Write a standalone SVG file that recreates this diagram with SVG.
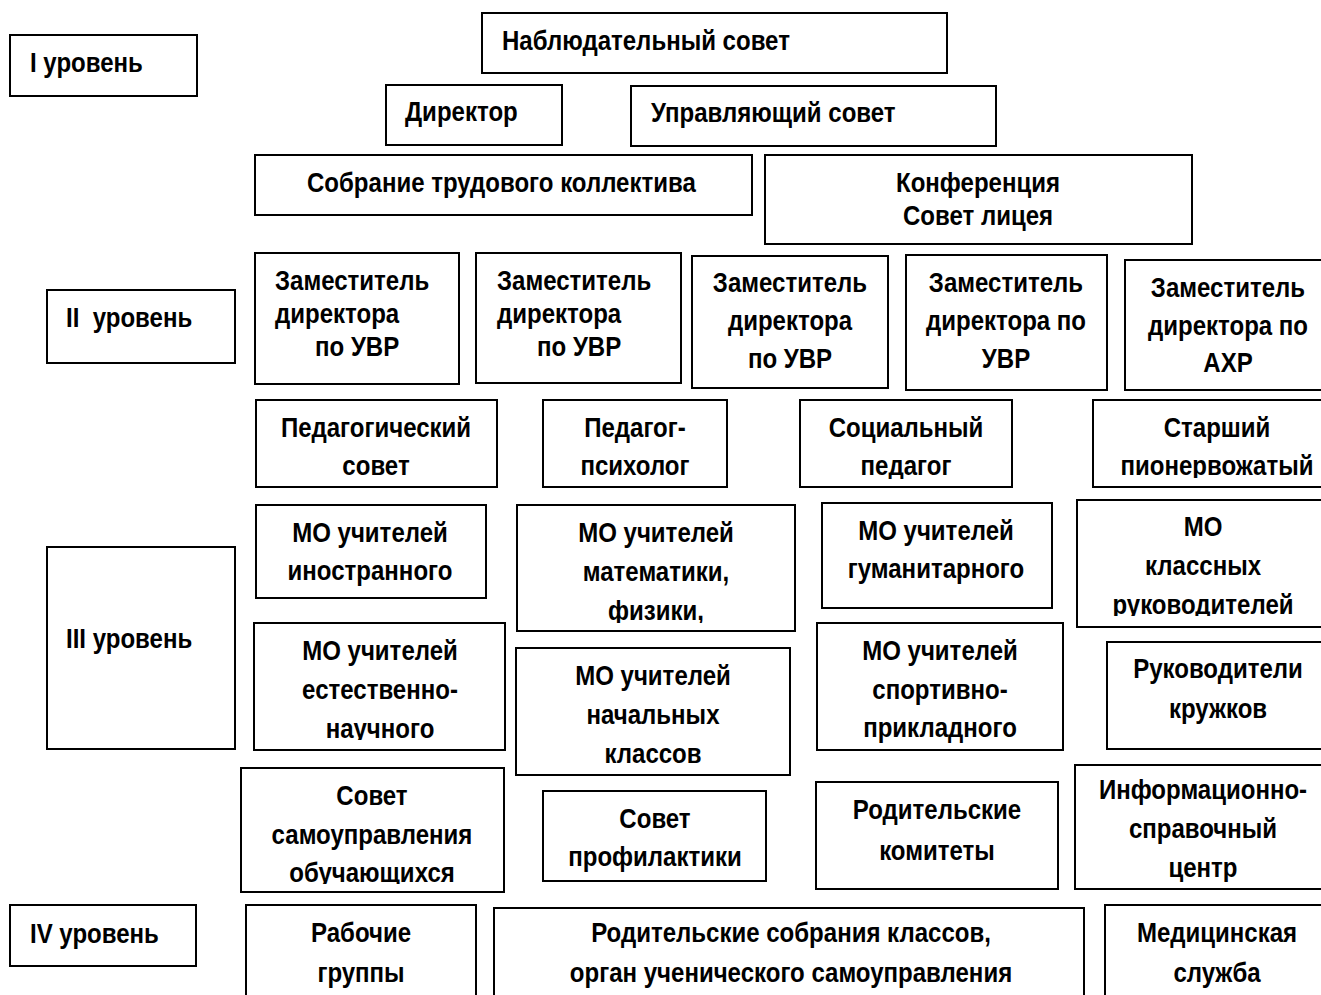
<svg xmlns="http://www.w3.org/2000/svg" width="1321" height="995" viewBox="0 0 1321 995">
<style>
rect.b{fill:#fff;stroke:#000;stroke-width:2}
text{font-family:"Liberation Sans",Arial,sans-serif;font-weight:bold;font-size:27px;fill:#000}
text.m{text-anchor:middle}
</style>
<defs>
<clipPath id="c-soc"><rect x="800" y="400" width="212" height="79"/></clipPath>
<clipPath id="c-star"><rect x="1093" y="400" width="240" height="78"/></clipPath>
<clipPath id="c-momat"><rect x="517" y="505" width="278" height="118"/></clipPath>
<clipPath id="c-mokl"><rect x="1077" y="500" width="256" height="116"/></clipPath>
<clipPath id="c-moest"><rect x="254" y="623" width="251" height="117"/></clipPath>
<clipPath id="c-sovsam"><rect x="241" y="768" width="263" height="116"/></clipPath>
<clipPath id="c-info"><rect x="1075" y="765" width="258" height="117"/></clipPath>
</defs>
<rect width="1321" height="995" fill="#fff"/>
<g id="connectors"></g>
<g id="lvl1"><rect class="b" x="10" y="35" width="187" height="61"/><g transform="matrix(0.89 0 0 1 30 0)"><text x="0" y="72">I уровень</text></g></g>
<g id="nabl"><rect class="b" x="482" y="13" width="465" height="60"/><g transform="matrix(0.89 0 0 1 502 0)"><text x="0" y="50">Наблюдательный совет</text></g></g>
<g id="dir"><rect class="b" x="386" y="85" width="176" height="60"/><g transform="matrix(0.89 0 0 1 405 0)"><text x="0" y="121">Директор</text></g></g>
<g id="upr"><rect class="b" x="631" y="86" width="365" height="60"/><g transform="matrix(0.89 0 0 1 651 0)"><text x="0" y="122">Управляющий совет</text></g></g>
<g id="sobr"><rect class="b" x="255" y="155" width="497" height="60"/><g transform="matrix(0.89 0 0 1 307 0)"><text x="0" y="192">Собрание трудового коллектива</text></g></g>
<g id="konf"><rect class="b" x="765" y="155" width="427" height="89"/><g transform="matrix(0.89 0 0 1 978 0)"><text class="m" x="0" y="192">Конференция</text><text class="m" x="0" y="225">Совет лицея</text></g></g>
<g id="lvl2"><rect class="b" x="47" y="290" width="188" height="73"/><g transform="matrix(0.89 0 0 1 66 0)"><text x="0" y="327">II&#160; уровень</text></g></g>
<g id="zd1"><rect class="b" x="255" y="253" width="204" height="131"/><g transform="matrix(0.89 0 0 1 275 0)"><text x="0" y="290">Заместитель</text><text x="0" y="323">директора</text><text x="45" y="356">по УВР</text></g></g>
<g id="zd2"><rect class="b" x="476" y="253" width="205" height="130"/><g transform="matrix(0.89 0 0 1 497 0)"><text x="0" y="290">Заместитель</text><text x="0" y="323">директора</text><text x="45" y="356">по УВР</text></g></g>
<g id="zd3"><rect class="b" x="692" y="256" width="196" height="132"/><g transform="matrix(0.89 0 0 1 790 0)"><text class="m" x="0" y="292">Заместитель</text><text class="m" x="0" y="330">директора</text><text class="m" x="0" y="368">по УВР</text></g></g>
<g id="zd4"><rect class="b" x="906" y="255" width="201" height="135"/><g transform="matrix(0.89 0 0 1 1006 0)"><text class="m" x="0" y="292">Заместитель</text><text class="m" x="0" y="330">директора по</text><text class="m" x="0" y="368">УВР</text></g></g>
<g id="zd5"><rect class="b" x="1125" y="260" width="210" height="130"/><g transform="matrix(0.89 0 0 1 1228 0)"><text class="m" x="0" y="297">Заместитель</text><text class="m" x="0" y="335">директора по</text><text class="m" x="0" y="372">АХР</text></g></g>
<g id="pedsov"><rect class="b" x="256" y="400" width="241" height="87"/><g transform="matrix(0.89 0 0 1 376 0)"><text class="m" x="0" y="437">Педагогический</text><text class="m" x="0" y="475">совет</text></g></g>
<g id="psych"><rect class="b" x="543" y="400" width="184" height="87"/><g transform="matrix(0.89 0 0 1 635 0)"><text class="m" x="0" y="437">Педагог-</text><text class="m" x="0" y="475">психолог</text></g></g>
<g id="soc"><rect class="b" x="800" y="400" width="212" height="87"/><g clip-path="url(#c-soc)"><g transform="matrix(0.89 0 0 1 906 0)"><text class="m" x="0" y="437">Социальный</text><text class="m" x="0" y="475">педагог</text></g></g></g>
<g id="star"><rect class="b" x="1093" y="400" width="240" height="87"/><g clip-path="url(#c-star)"><g transform="matrix(0.89 0 0 1 1217 0)"><text class="m" x="0" y="437">Старший</text><text class="m" x="0" y="475">пионервожатый</text></g></g></g>
<g id="lvl3"><rect class="b" x="47" y="547" width="188" height="202"/><g transform="matrix(0.89 0 0 1 66 0)"><text x="0" y="648">III уровень</text></g></g>
<g id="moin"><rect class="b" x="256" y="505" width="230" height="93"/><g transform="matrix(0.89 0 0 1 370 0)"><text class="m" x="0" y="542">МО учителей</text><text class="m" x="0" y="580">иностранного</text></g></g>
<g id="momat"><rect class="b" x="517" y="505" width="278" height="126"/><g clip-path="url(#c-momat)"><g transform="matrix(0.89 0 0 1 656 0)"><text class="m" x="0" y="542">МО учителей</text><text class="m" x="0" y="581">математики,</text><text class="m" x="0" y="620">физики,</text></g></g></g>
<g id="mogum"><rect class="b" x="822" y="503" width="230" height="105"/><g transform="matrix(0.89 0 0 1 936 0)"><text class="m" x="0" y="540">МО учителей</text><text class="m" x="0" y="578">гуманитарного</text></g></g>
<g id="mokl"><rect class="b" x="1077" y="500" width="256" height="127"/><g clip-path="url(#c-mokl)"><g transform="matrix(0.89 0 0 1 1203 0)"><text class="m" x="0" y="536">МО</text><text class="m" x="0" y="575">классных</text><text class="m" x="0" y="614">руководителей</text></g></g></g>
<g id="moest"><rect class="b" x="254" y="623" width="251" height="127"/><g clip-path="url(#c-moest)"><g transform="matrix(0.89 0 0 1 380 0)"><text class="m" x="0" y="660">МО учителей</text><text class="m" x="0" y="699">естественно-</text><text class="m" x="0" y="738">научного</text></g></g></g>
<g id="monach"><rect class="b" x="516" y="648" width="274" height="127"/><g transform="matrix(0.89 0 0 1 653 0)"><text class="m" x="0" y="685">МО учителей</text><text class="m" x="0" y="724">начальных</text><text class="m" x="0" y="763">классов</text></g></g>
<g id="mosport"><rect class="b" x="817" y="623" width="246" height="127"/><g transform="matrix(0.89 0 0 1 940 0)"><text class="m" x="0" y="660">МО учителей</text><text class="m" x="0" y="699">спортивно-</text><text class="m" x="0" y="737">прикладного</text></g></g>
<g id="ruk"><rect class="b" x="1107" y="642" width="226" height="107"/><g transform="matrix(0.89 0 0 1 1218 0)"><text class="m" x="0" y="678">Руководители</text><text class="m" x="0" y="718">кружков</text></g></g>
<g id="sovsam"><rect class="b" x="241" y="768" width="263" height="124"/><g clip-path="url(#c-sovsam)"><g transform="matrix(0.89 0 0 1 372 0)"><text class="m" x="0" y="805">Совет</text><text class="m" x="0" y="844">самоуправления</text><text class="m" x="0" y="882">обучающихся</text></g></g></g>
<g id="sovprof"><rect class="b" x="543" y="791" width="223" height="90"/><g transform="matrix(0.89 0 0 1 655 0)"><text class="m" x="0" y="828">Совет</text><text class="m" x="0" y="866">профилактики</text></g></g>
<g id="rodkom"><rect class="b" x="816" y="782" width="242" height="107"/><g transform="matrix(0.89 0 0 1 937 0)"><text class="m" x="0" y="819">Родительские</text><text class="m" x="0" y="860">комитеты</text></g></g>
<g id="info"><rect class="b" x="1075" y="765" width="258" height="124"/><g clip-path="url(#c-info)"><g transform="matrix(0.89 0 0 1 1203 0)"><text class="m" x="0" y="799">Информационно-</text><text class="m" x="0" y="838">справочный</text><text class="m" x="0" y="877">центр</text></g></g></g>
<g id="lvl4"><rect class="b" x="10" y="905" width="186" height="61"/><g transform="matrix(0.89 0 0 1 30 0)"><text x="0" y="943">IV уровень</text></g></g>
<g id="rab"><rect class="b" x="246" y="905" width="230" height="100"/><g transform="matrix(0.89 0 0 1 361 0)"><text class="m" x="0" y="942">Рабочие</text><text class="m" x="0" y="982">группы</text></g></g>
<g id="rodsobr"><rect class="b" x="494" y="908" width="590" height="100"/><g transform="matrix(0.89 0 0 1 791 0)"><text class="m" x="0" y="942">Родительские собрания классов,</text><text class="m" x="0" y="982">орган ученического самоуправления</text></g></g>
<g id="med"><rect class="b" x="1105" y="905" width="228" height="100"/><g transform="matrix(0.89 0 0 1 1217 0)"><text class="m" x="0" y="942">Медицинская</text><text class="m" x="0" y="982">служба</text></g></g>
</svg>
